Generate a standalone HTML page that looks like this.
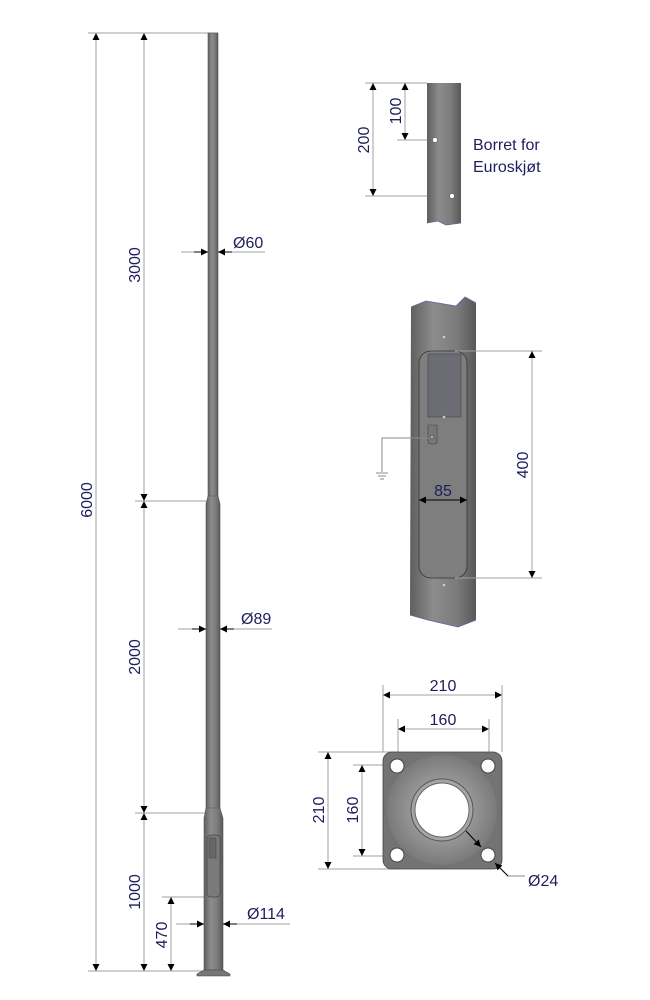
<!DOCTYPE html>
<html><head><meta charset="utf-8"><style>
html,body{margin:0;padding:0;background:#fff;}
svg{display:block;}
text{font-family:"Liberation Sans",sans-serif;fill:#1e1e5c;font-size:16px;}
</style></head><body>
<svg width="650" height="1000" viewBox="0 0 650 1000" xmlns="http://www.w3.org/2000/svg">
<defs>
<linearGradient id="pg" x1="0" x2="1" y1="0" y2="0">
<stop offset="0" stop-color="#5e5e5e"/><stop offset="0.35" stop-color="#8c8c8c"/><stop offset="0.7" stop-color="#7c7c7c"/><stop offset="1" stop-color="#585858"/>
</linearGradient>
<radialGradient id="fg" cx="0.5" cy="0.5" r="0.5">
<stop offset="0.5" stop-color="#9a9a9a"/><stop offset="1" stop-color="#7a7a7a"/>
</radialGradient>
<marker id="a" viewBox="0 0 10 10" refX="10" refY="5" markerWidth="14" markerHeight="7" orient="auto-start-reverse" markerUnits="userSpaceOnUse"><path d="M0,0L10,5L0,10z" fill="#000"/></marker>
</defs>
<g stroke="#a0a0a0" stroke-width="1" fill="none">
<line x1="88" y1="33" x2="218" y2="33"/>
<line x1="88" y1="971" x2="205" y2="971"/>
<line x1="135" y1="501" x2="207" y2="501"/>
<line x1="135" y1="813" x2="205" y2="813"/>
<line x1="162" y1="897" x2="207" y2="897"/>
<line x1="96" y1="33" x2="96" y2="971" marker-start="url(#a)" marker-end="url(#a)"/>
<line x1="144" y1="33" x2="144" y2="501" marker-start="url(#a)" marker-end="url(#a)"/>
<line x1="144" y1="501" x2="144" y2="813" marker-start="url(#a)" marker-end="url(#a)"/>
<line x1="144" y1="813" x2="144" y2="971" marker-start="url(#a)" marker-end="url(#a)"/>
<line x1="171" y1="897" x2="171" y2="971" marker-start="url(#a)" marker-end="url(#a)"/>
<line x1="181" y1="252" x2="265" y2="252"/>
<line x1="178" y1="629" x2="272" y2="629"/>
<line x1="176" y1="924" x2="290" y2="924"/>
</g>
<rect x="208" y="33" width="10" height="469" fill="url(#pg)" stroke="#555" stroke-width="0.6"/>
<path d="M208,496 L206,504 L206,813 L220,813 L220,504 L218,496Z" fill="url(#pg)" stroke="#555" stroke-width="0.6"/>
<path d="M206,808 L204,818 L204,970 L223,970 L223,818 L220,808Z" fill="url(#pg)" stroke="#555" stroke-width="0.6"/>
<rect x="207" y="835" width="13" height="62" rx="4" fill="#7a7a7a" stroke="#444" stroke-width="0.7"/>
<rect x="209" y="838" width="7" height="20" fill="#666" stroke="#444" stroke-width="0.5"/>
<path d="M204,970 L197,974 L197,976 L230,976 L230,974 L223,970Z" fill="#777" stroke="#444" stroke-width="0.6"/>
<g stroke="#000" stroke-width="1">
<line x1="194" y1="252" x2="208" y2="252" marker-end="url(#a)"/>
<line x1="232" y1="252" x2="218" y2="252" marker-end="url(#a)"/>
<line x1="192" y1="629" x2="206" y2="629" marker-end="url(#a)"/>
<line x1="234" y1="629" x2="220" y2="629" marker-end="url(#a)"/>
<line x1="190" y1="924" x2="204" y2="924" marker-end="url(#a)"/>
<line x1="237" y1="924" x2="223" y2="924" marker-end="url(#a)"/>
</g>
<text x="233" y="248">Ø60</text>
<text x="241" y="624">Ø89</text>
<text x="247" y="919">Ø114</text>
<text transform="translate(92,500) rotate(-90)" text-anchor="middle">6000</text>
<text transform="translate(140,265) rotate(-90)" text-anchor="middle">3000</text>
<text transform="translate(140,657) rotate(-90)" text-anchor="middle">2000</text>
<text transform="translate(140,892) rotate(-90)" text-anchor="middle">1000</text>
<text transform="translate(167,935) rotate(-90)" text-anchor="middle">470</text>

<g stroke="#a0a0a0" fill="none">
<line x1="365" y1="83" x2="427" y2="83"/>
<line x1="397" y1="140" x2="435" y2="140"/>
<line x1="365" y1="196" x2="452" y2="196"/>
<line x1="373" y1="83" x2="373" y2="196" marker-start="url(#a)" marker-end="url(#a)"/>
<line x1="405" y1="83" x2="405" y2="140" marker-start="url(#a)" marker-end="url(#a)"/>
</g>
<path d="M427,83 L461,83 L461,223 L446,225 L438,221 L427,223Z" fill="url(#pg)"/>
<path d="M427,223 L438,221 L446,225 L461,223" fill="none" stroke="#6060a0" stroke-width="0.8"/>
<circle cx="435" cy="140" r="2.5" fill="#fff" stroke="#444" stroke-width="0.5"/>
<circle cx="452" cy="196" r="2.5" fill="#fff" stroke="#444" stroke-width="0.5"/>
<text transform="translate(369,140) rotate(-90)" text-anchor="middle">200</text>
<text transform="translate(401,111) rotate(-90)" text-anchor="middle">100</text>
<text x="473" y="150" style="font-size:16px">Borret for</text>
<text x="473" y="172" style="font-size:16px">Euroskjøt</text>

<path d="M411,307 L426,301 L456,306 L465,297 L476,303 L476,620 L458,627 L428,620 L410,615Z" fill="url(#pg)"/>
<path d="M411,307 L426,301 L456,306 L465,297 L476,303 M476,620 L458,627 L428,620 L410,615" fill="none" stroke="#6060a0" stroke-width="0.8"/>
<rect x="419" y="351" width="48" height="227" rx="12" fill="#7e7e7e" stroke="#333" stroke-width="0.8"/>
<rect x="428" y="354" width="33" height="63" fill="#6c6c74" stroke="#444" stroke-width="0.6"/>
<path d="M428,425 L437,425 L437,441 Q437,444 434,444 L431,444 Q428,444 428,441Z" fill="#777" stroke="#444" stroke-width="0.6"/>
<circle cx="432" cy="437" r="2" fill="#aaa" stroke="#333" stroke-width="0.5"/>
<circle cx="444" cy="337" r="1.3" fill="#ccc"/>
<circle cx="444" cy="417" r="1.3" fill="#ccc"/>
<circle cx="444" cy="585" r="1.3" fill="#ccc"/>
<g stroke="#888" fill="none">
<polyline points="430,438 382,438 382,472"/>
<line x1="376" y1="473" x2="388" y2="473"/>
<line x1="378" y1="476" x2="386" y2="476"/>
<line x1="380" y1="479" x2="384" y2="479"/>
</g>
<g stroke="#a0a0a0" fill="none">
<line x1="455" y1="351" x2="542" y2="351"/>
<line x1="455" y1="578" x2="542" y2="578"/>
<line x1="532" y1="351" x2="532" y2="578" marker-start="url(#a)" marker-end="url(#a)"/>
</g>
<line x1="419" y1="500" x2="467" y2="500" stroke="#000" marker-start="url(#a)" marker-end="url(#a)"/>
<text x="443" y="496" text-anchor="middle">85</text>
<text transform="translate(528,465) rotate(-90)" text-anchor="middle">400</text>

<g stroke="#a0a0a0" fill="none">
<line x1="383" y1="685" x2="383" y2="752"/>
<line x1="502" y1="685" x2="502" y2="752"/>
<line x1="398" y1="719" x2="398" y2="767"/>
<line x1="489" y1="719" x2="489" y2="767"/>
<line x1="318" y1="752" x2="398" y2="752"/>
<line x1="318" y1="869" x2="398" y2="869"/>
<line x1="353" y1="765" x2="398" y2="765"/>
<line x1="353" y1="856" x2="398" y2="856"/>
<line x1="383" y1="695" x2="502" y2="695" marker-start="url(#a)" marker-end="url(#a)"/>
<line x1="398" y1="729" x2="489" y2="729" marker-start="url(#a)" marker-end="url(#a)"/>
<line x1="328" y1="752" x2="328" y2="869" marker-start="url(#a)" marker-end="url(#a)"/>
<line x1="362" y1="765" x2="362" y2="856" marker-start="url(#a)" marker-end="url(#a)"/>
</g>
<rect x="383" y="752" width="119" height="117" rx="9" fill="#737373" stroke="#444" stroke-width="0.8"/>
<circle cx="442" cy="810" r="55" fill="url(#fg)"/>
<circle cx="442" cy="810" r="31" fill="#a5a5a5" stroke="#555"/>
<circle cx="442" cy="810" r="27" fill="#fff" stroke="#666"/>
<circle cx="397" cy="766" r="7" fill="#fff" stroke="#444"/>
<circle cx="488" cy="766" r="7" fill="#fff" stroke="#444"/>
<circle cx="397" cy="855" r="7" fill="#fff" stroke="#444"/>
<circle cx="488" cy="855" r="7" fill="#fff" stroke="#444"/>
<line x1="466" y1="831" x2="481" y2="847" stroke="#000" marker-end="url(#a)"/>
<polyline points="495,863 508,876 525,876" fill="none" stroke="#888"/>
<line x1="508" y1="876" x2="495" y2="863" stroke="#000" marker-end="url(#a)"/>
<text x="443" y="691" text-anchor="middle">210</text>
<text x="443" y="725" text-anchor="middle">160</text>
<text transform="translate(324,810) rotate(-90)" text-anchor="middle">210</text>
<text transform="translate(358,810) rotate(-90)" text-anchor="middle">160</text>
<text x="528" y="886">Ø24</text>
</svg>
</body></html>
